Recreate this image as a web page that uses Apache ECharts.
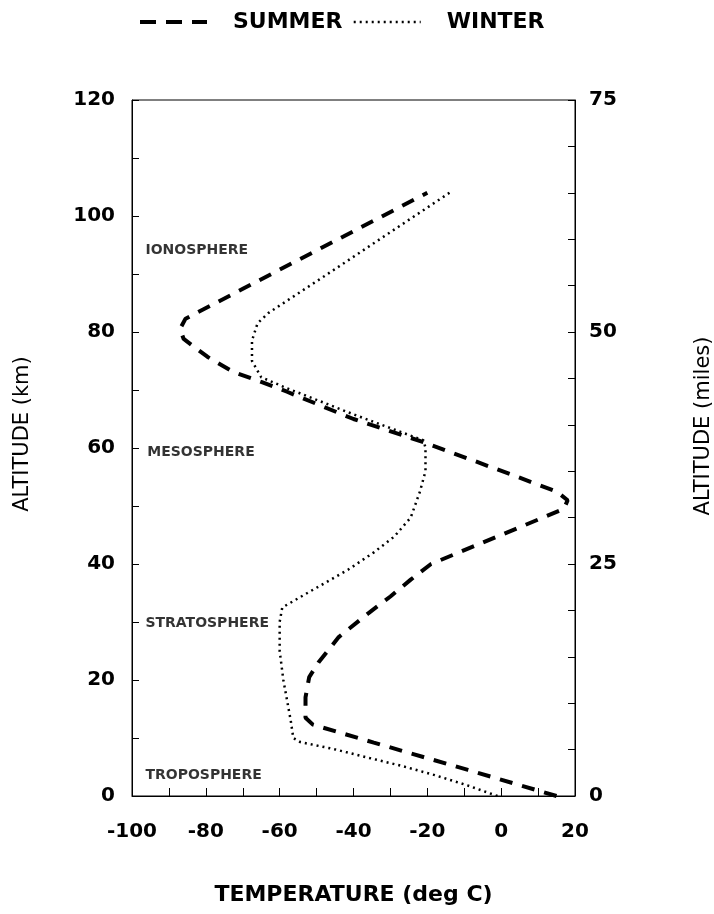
<!DOCTYPE html>
<html>
<head>
<meta charset="utf-8">
<script src="https://cdn.jsdelivr.net/npm/echarts@6/dist/echarts.min.js"></script>
<style>
html,body{margin:0;padding:0;background:#fff;overflow:hidden;}
#chart{width:714px;height:914px;}
</style>
</head>
<body>
<div id="chart"></div>
<script>
// ---- Data ----
const summerTemp = [15, -9, -34.5, -51, -53, -53, -52, -49.5, -44, -36, -30, -24.5, -19, 17, 18, 15, 4.5, -21, -40, -58, -65, -72.5, -79.5, -86, -87, -85.5, -55, -20];
const summerAlt  = [0, 4.5, 9.2, 12.3, 13.5, 17, 20.5, 23, 27.4, 31.5, 34.4, 37.3, 40, 49.5, 51, 52.5, 55, 61, 65, 69.7, 71.4, 73.1, 75.7, 78.8, 80.5, 82.3, 92.4, 104];

const winterTemp = [-1, -9, -18, -27, -36, -45.4, -54.4, -56.3, -57, -59, -60, -60, -59.3, -52.5, -41.5, -34.5, -29, -24.5, -22, -20.5, -20.5, -21, -40, -58, -65, -67.5, -67.5, -66, -63, -47, -14];
const winterAlt  = [0, 1.8, 3.6, 5.2, 6.6, 8.1, 9.3, 10, 13, 20, 25, 30, 32.5, 35, 39, 42, 44.7, 48, 52.5, 56, 60, 61.3, 65.8, 70.3, 72.2, 75, 78.5, 81.5, 83.3, 90, 104];

const layerNames = ['IONOSPHERE', 'MESOSPHERE', 'STRATOSPHERE', 'TROPOSPHERE'];
const layerTemp  = [-96.5, -96, -96.5, -96.5];
const layerAlt   = [94, 59.3, 29.8, 3.6];

const seriesNames = ['SUMMER', 'WINTER'];
const tempTicks = { min: -100, max: 20, step: 10, labelStep: 20 };
const kmTicks   = { min: 0, max: 120, step: 10, labelStep: 20 };
const mileTicks = { min: 0, max: 75, step: 5, labelStep: 25 };

// ---- Build ----
const zip = (a, b) => a.map((v, i) => [v, b[i]]);
const summerData = zip(summerTemp, summerAlt);
const winterData = zip(winterTemp, winterAlt);
const layerData = layerNames.map((n, i) => [layerTemp[i], layerAlt[i], n]);

const FONT = 'DejaVu Sans';
const tickLabel = { color: '#000', fontFamily: FONT, fontWeight: 'bold', fontSize: 20 };
const hiddenMarker = { color: 'rgba(0,0,0,0)', borderWidth: 0, opacity: 0 };

const chart = echarts.init(document.getElementById('chart'), null, { renderer: 'canvas' });
chart.setOption({
  animation: false,
  backgroundColor: '#fff',
  legend: {
    left: 133, top: 6,
    itemWidth: 67, itemHeight: 16, itemGap: 10,
    data: [
      { name: seriesNames[0], lineStyle: { type: [16, 10], width: 4 }, itemStyle: hiddenMarker },
      { name: seriesNames[1], lineStyle: { type: [2, 4], width: 2.5 }, itemStyle: hiddenMarker }
    ],
    textStyle: { color: '#000', fontFamily: FONT, fontWeight: 'bold', fontSize: 22, padding: [0, 0, 0, 21] }
  },
  grid: { left: 132, right: 139, top: 100, bottom: 118, outerBoundsMode: 'none', containLabel: false,
          show: true, borderColor: '#000', borderWidth: 1, backgroundColor: 'transparent' },
  xAxis: {
    type: 'value', min: tempTicks.min, max: tempTicks.max, interval: tempTicks.step,
    name: 'TEMPERATURE (deg C)', nameLocation: 'middle', nameGap: 88,
    nameTextStyle: { color: '#000', fontFamily: FONT, fontWeight: 'bold', fontSize: 22 },
    axisLine: { show: true, onZero: false, lineStyle: { color: '#000', width: 1 } },
    axisTick: { show: true, inside: true, length: 8, lineStyle: { color: '#000' } },
    axisLabel: Object.assign({ margin: 26, formatter: v => (v % tempTicks.labelStep === 0 ? String(v) : '') }, tickLabel),
    splitLine: { show: false }
  },
  yAxis: [
    {
      type: 'value', position: 'left', min: kmTicks.min, max: kmTicks.max, interval: kmTicks.step,
      name: 'ALTITUDE (km)', nameLocation: 'middle', nameRotate: 90, nameGap: 99,
      nameTextStyle: { color: '#000', fontFamily: FONT, fontSize: 21, padding: [0, 0, 0, 28] },
      axisLine: { show: true, onZero: false, lineStyle: { color: '#000', width: 1 } },
      axisTick: { show: true, inside: true, length: 7, lineStyle: { color: '#000' } },
      axisLabel: Object.assign({ margin: 17, formatter: v => (v % kmTicks.labelStep === 0 ? String(v) : '') }, tickLabel),
      splitLine: { show: false }
    },
    {
      type: 'value', position: 'right', min: mileTicks.min, max: mileTicks.max, interval: mileTicks.step,
      alignTicks: false,
      name: 'ALTITUDE (miles)', nameLocation: 'middle', nameRotate: 90, nameGap: 118,
      nameTextStyle: { color: '#000', fontFamily: FONT, fontSize: 21, padding: [0, 0, 0, 44] },
      axisLine: { show: true, onZero: false, lineStyle: { color: '#000', width: 1 } },
      axisTick: { show: true, inside: true, length: 7, lineStyle: { color: '#000' } },
      axisLabel: Object.assign({ margin: 14, formatter: v => (v % mileTicks.labelStep === 0 ? String(v) : '') }, tickLabel),
      splitLine: { show: false }
    }
  ],
  series: [
    {
      name: seriesNames[0], type: 'line', xAxisIndex: 0, yAxisIndex: 0,
      data: summerData, symbol: 'none', smooth: false,
      lineStyle: { color: '#000', width: 4, type: [13, 10] },
      itemStyle: { color: '#000' }
    },
    {
      name: seriesNames[1], type: 'line', xAxisIndex: 0, yAxisIndex: 0,
      data: winterData, symbol: 'none', smooth: false,
      lineStyle: { color: '#000', width: 2.5, type: [2, 4] },
      itemStyle: { color: '#000' }
    },
    {
      name: 'layers', type: 'scatter', xAxisIndex: 0, yAxisIndex: 0,
      data: layerData, symbolSize: 1, silent: true,
      itemStyle: { color: 'rgba(0,0,0,0)' },
      label: {
        show: true, position: 'right', distance: 0,
        formatter: p => p.data[2],
        color: '#000', fontFamily: FONT, fontWeight: 'bold', fontSize: 14
      }
    }
  ]
});
</script>
</body>
</html>
